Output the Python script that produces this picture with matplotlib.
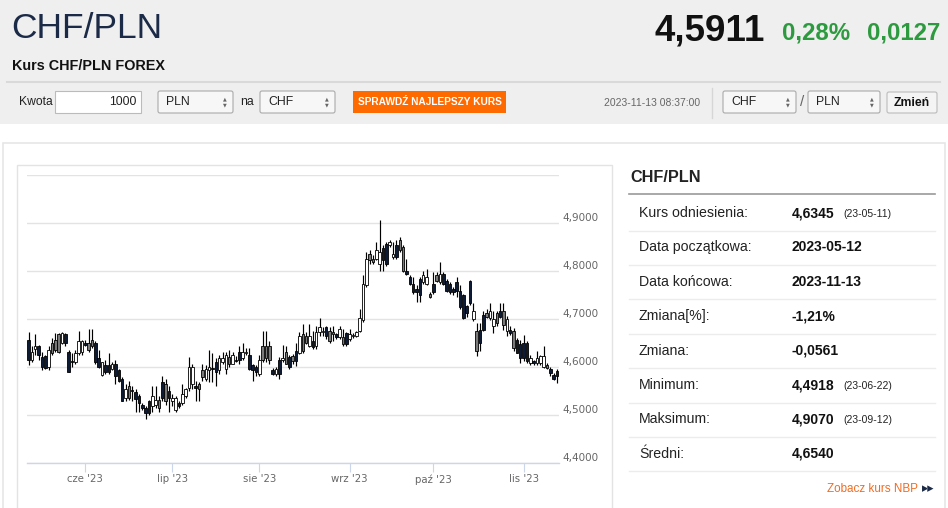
import numpy as np
import pandas as pd
import matplotlib
matplotlib.use("Agg")
import matplotlib.pyplot as plt
from matplotlib.patches import Rectangle, FancyBboxPatch
from matplotlib.transforms import ScaledTranslation

# sessions Sun-Fri, 2023-05-12 .. 2023-11-13
days = pd.date_range("2023-05-12", "2023-11-13")
dates = days[days.dayofweek != 5]

opens = [4.657, 4.614, 4.637, 4.643, 4.621, 4.622, 4.600, 4.629, 4.636, 4.632, 4.651, 4.668, 4.632, 4.612,
         4.611, 4.629, 4.632, 4.651, 4.636, 4.643, 4.650, 4.618, 4.584, 4.604, 4.604, 4.596, 4.607,
         4.593, 4.575, 4.536, 4.536, 4.552, 4.548, 4.539, 4.521, 4.514, 4.504, 4.518, 4.521, 4.532,
         4.536, 4.564, 4.536, 4.529, 4.536, 4.518, 4.525, 4.539, 4.557, 4.600, 4.557, 4.554, 4.579,
         4.575, 4.600, 4.597, 4.589, 4.593, 4.611, 4.596, 4.607, 4.625, 4.615, 4.614, 4.618, 4.632,
         4.625, 4.604, 4.589, 4.586, 4.614, 4.618, 4.643, 4.586, 4.596, 4.586, 4.614, 4.632, 4.600,
         4.623, 4.613, 4.630, 4.634, 4.651, 4.665, 4.641, 4.644, 4.672, 4.676, 4.665, 4.655, 4.672,
         4.662, 4.662, 4.662, 4.648, 4.658, 4.664, 4.665, 4.676, 4.697, 4.770, 4.822, 4.819, 4.826, 4.840,
         4.847, 4.815, 4.854, 4.836, 4.829, 4.843, 4.850, 4.801, 4.787, 4.773, 4.763, 4.749, 4.777,
         4.773, 4.752, 4.756, 4.780, 4.794, 4.794, 4.780, 4.773, 4.763, 4.777, 4.759, 4.749, 4.712,
         4.733, 4.716, 4.674, 4.650, 4.678, 4.705, 4.702, 4.699, 4.692, 4.705, 4.716, 4.674, 4.678,
         4.674, 4.657, 4.647, 4.619, 4.650, 4.608, 4.608, 4.608, 4.608, 4.622, 4.605, 4.595, 4.574, 4.581]
highs = [4.672, 4.643, 4.668, 4.646, 4.632, 4.625, 4.643, 4.661, 4.671, 4.671, 4.672, 4.671, 4.636, 4.629,
         4.636, 4.675, 4.657, 4.656, 4.679, 4.680, 4.654, 4.636, 4.611, 4.614, 4.629, 4.611, 4.614,
         4.596, 4.579, 4.564, 4.571, 4.561, 4.554, 4.543, 4.525, 4.518, 4.532, 4.561, 4.561, 4.539,
         4.582, 4.575, 4.561, 4.543, 4.539, 4.529, 4.564, 4.557, 4.621, 4.607, 4.571, 4.568, 4.607,
         4.604, 4.636, 4.629, 4.618, 4.625, 4.632, 4.632, 4.636, 4.632, 4.622, 4.643, 4.650, 4.640,
         4.639, 4.607, 4.604, 4.625, 4.675, 4.675, 4.654, 4.598, 4.600, 4.621, 4.646, 4.643, 4.625,
         4.627, 4.651, 4.672, 4.690, 4.672, 4.690, 4.676, 4.686, 4.703, 4.683, 4.686, 4.683, 4.686,
         4.670, 4.686, 4.679, 4.672, 4.679, 4.670, 4.676, 4.721, 4.791, 4.840, 4.843, 4.833, 4.861, 4.907,
         4.854, 4.861, 4.864, 4.861, 4.864, 4.871, 4.854, 4.826, 4.791, 4.787, 4.770, 4.787, 4.801,
         4.805, 4.756, 4.798, 4.798, 4.819, 4.798, 4.784, 4.777, 4.766, 4.787, 4.770, 4.752, 4.730,
         4.782, 4.733, 4.692, 4.692, 4.716, 4.720, 4.733, 4.716, 4.716, 4.733, 4.733, 4.706, 4.685,
         4.681, 4.660, 4.657, 4.667, 4.655, 4.625, 4.614, 4.633, 4.625, 4.643, 4.608, 4.601, 4.588, 4.595]
lows = [4.604, 4.611, 4.625, 4.615, 4.593, 4.595, 4.593, 4.625, 4.632, 4.630, 4.648, 4.643, 4.589, 4.600,
        4.607, 4.625, 4.625, 4.644, 4.632, 4.639, 4.607, 4.598, 4.582, 4.586, 4.586, 4.593, 4.564,
        4.568, 4.529, 4.529, 4.532, 4.529, 4.507, 4.507, 4.511, 4.4918, 4.500, 4.507, 4.514, 4.507,
        4.529, 4.521, 4.507, 4.518, 4.507, 4.514, 4.521, 4.536, 4.550, 4.554, 4.529, 4.529, 4.571,
        4.571, 4.568, 4.568, 4.561, 4.585, 4.607, 4.586, 4.600, 4.607, 4.610, 4.607, 4.614, 4.626,
        4.593, 4.571, 4.582, 4.582, 4.611, 4.611, 4.607, 4.584, 4.582, 4.575, 4.611, 4.607, 4.596,
        4.606, 4.602, 4.627, 4.630, 4.648, 4.641, 4.637, 4.637, 4.665, 4.665, 4.658, 4.651, 4.655,
        4.658, 4.658, 4.644, 4.644, 4.655, 4.660, 4.662, 4.672, 4.693, 4.766, 4.815, 4.815, 4.822, 4.800,
        4.801, 4.810, 4.850, 4.826, 4.826, 4.840, 4.798, 4.791, 4.770, 4.752, 4.735, 4.735, 4.773,
        4.770, 4.744, 4.752, 4.777, 4.773, 4.770, 4.756, 4.752, 4.750, 4.745, 4.721, 4.700, 4.705,
        4.730, 4.695, 4.622, 4.633, 4.674, 4.702, 4.698, 4.671, 4.685, 4.702, 4.678, 4.664, 4.667,
        4.633, 4.629, 4.608, 4.612, 4.608, 4.605, 4.605, 4.605, 4.605, 4.598, 4.595, 4.581, 4.572, 4.567]
closes = [4.614, 4.632, 4.643, 4.625, 4.600, 4.598, 4.636, 4.650, 4.657, 4.668, 4.670, 4.650, 4.590, 4.610,
          4.629, 4.654, 4.654, 4.646, 4.650, 4.657, 4.611, 4.600, 4.611, 4.589, 4.589, 4.607, 4.582,
          4.571, 4.529, 4.554, 4.561, 4.549, 4.534, 4.525, 4.514, 4.504, 4.529, 4.539, 4.532, 4.514,
          4.568, 4.529, 4.550, 4.536, 4.511, 4.525, 4.543, 4.554, 4.600, 4.564, 4.561, 4.564, 4.593,
          4.596, 4.593, 4.595, 4.611, 4.618, 4.618, 4.625, 4.621, 4.607, 4.612, 4.632, 4.632, 4.629,
          4.596, 4.593, 4.600, 4.614, 4.643, 4.643, 4.614, 4.593, 4.586, 4.614, 4.618, 4.607, 4.621,
          4.613, 4.634, 4.665, 4.669, 4.665, 4.644, 4.655, 4.672, 4.683, 4.672, 4.683, 4.676, 4.668,
          4.669, 4.679, 4.648, 4.670, 4.669, 4.667, 4.672, 4.703, 4.773, 4.826, 4.836, 4.826, 4.843, 4.815,
          4.822, 4.857, 4.861, 4.829, 4.854, 4.864, 4.801, 4.794, 4.773, 4.756, 4.756, 4.784, 4.791,
          4.787, 4.746, 4.773, 4.791, 4.777, 4.773, 4.759, 4.756, 4.756, 4.759, 4.724, 4.703, 4.728,
          4.780, 4.699, 4.633, 4.678, 4.709, 4.712, 4.716, 4.685, 4.712, 4.716, 4.688, 4.699, 4.671,
          4.640, 4.629, 4.619, 4.650, 4.612, 4.619, 4.612, 4.619, 4.622, 4.601, 4.598, 4.588, 4.584, 4.591]
# w = hollow, d = dark, g = grey
candle_kind = ("dwwdddwgggwdddwwwdggddwddwd"
               "ddwgddddddwwgdgdwwdwwwwdggw"
               "wddwwwgwddwwdddwgggdwdwgdg"
               "dwggwdwwwdggdwgdwwwwwwggwwd"
               "dwwdggdddddwwgdgwdddddddddw"
               "gddgwwgdgwdgddddwdwwwgdddww")

y_ticks = [4.4, 4.5, 4.6, 4.7, 4.8, 4.9, 5.0]
pl_months = {5: "maj", 6: "cze", 7: "lip", 8: "sie", 9: "wrz", 10: "paź", 11: "lis"}

rows = [("Kurs odniesienia:", "4,6345", "(23-05-11)"),
        ("Data początkowa:", "2023-05-12", ""),
        ("Data końcowa:", "2023-11-13", ""),
        ("Zmiana[%]:", "-1,21%", ""),
        ("Zmiana:", "-0,0561", ""),
        ("Minimum:", "4,4918", "(23-06-22)"),
        ("Maksimum:", "4,9070", "(23-09-12)"),
        ("Średni:", "4,6540", "")]

NARROW = ["Liberation Sans Narrow", "Liberation Sans", "DejaVu Sans"]
ARIAL = ["Liberation Sans", "DejaVu Sans"]
NAVY = "#1b2a47"
GREEN = "#2e9a40"
ORANGE = "#ff6a00"

W, H = 948, 508
fig = plt.figure(figsize=(W / 100, H / 100), dpi=100)
fig.patch.set_facecolor("white")
bg = fig.add_axes([0, 0, 1, 1])
bg.set_xlim(0, W)
bg.set_ylim(H, 0)
bg.axis("off")


def box(x, y, w, h, fc, ec, lw=0.8, r=0):
    if r:
        p = FancyBboxPatch((x, y), w, h, boxstyle="round,pad=0,rounding_size=%s" % r,
                           fc=fc, ec=ec, lw=lw)
    else:
        p = Rectangle((x, y), w, h, fc=fc, ec=ec, lw=lw)
    bg.add_patch(p)


def select(x, w, label):
    box(x, 91, w, 22, "#f7f7f7", "#aaaaaa", r=2)
    bg.text(x + 8, 102, label, family=NARROW, fontsize=8.8, color="#222222", va="center")
    bg.text(x + w - 8, 99, "▲", fontsize=3.5, color="#666666", ha="center", va="center")
    bg.text(x + w - 8, 105, "▼", fontsize=3.5, color="#666666", ha="center", va="center")


# header
box(0, 0, W, 124, "#efefef", "none", lw=0)
bg.text(11, 29, "CHF/PLN", family=NARROW, fontsize=25.5, color=NAVY, va="center")
bg.text(12, 66, "Kurs CHF/PLN FOREX", family=NARROW, fontsize=10.4, weight="bold",
        color="#111111", va="center")
bg.text(765, 31, "4,5911", family=NARROW, fontsize=26.5, weight="bold", color="#111111",
        ha="right", va="center")
bg.text(782, 33, "0,28%", family=NARROW, fontsize=17.3, weight="bold", color=GREEN, va="center")
bg.text(940, 33, "0,0127", family=NARROW, fontsize=17.3, weight="bold", color=GREEN,
        ha="right", va="center")
bg.plot([7, 940], [82, 82], color="#d9d9d9", lw=1.5)

bg.text(19, 102, "Kwota", family=NARROW, fontsize=8.7, color="#222222", va="center")
box(55, 91, 86, 22, "white", "#bbbbbb")
bg.text(137, 102, "1000", family=NARROW, fontsize=8.8, color="#222222", ha="right", va="center")
select(158, 75, "PLN")
bg.text(240, 102, "na", family=NARROW, fontsize=8.8, color="#222222", va="center")
select(260, 75, "CHF")
box(353, 91, 153, 22, ORANGE, "none", lw=0)
bg.text(429.5, 102, "SPRAWDŹ NAJLEPSZY KURS", family=NARROW, fontsize=7.3, weight="bold",
        color="white", ha="center", va="center")
bg.text(652, 103, "2023-11-13 08:37:00", family=NARROW, fontsize=7.5, color="#666666",
        ha="center", va="center")
bg.plot([712, 712], [88, 118], color="#d6d6d6", lw=1)
select(723, 73, "CHF")
bg.text(802, 102, "/", family=NARROW, fontsize=11, color="#666666", ha="center", va="center")
select(808, 72, "PLN")
box(887, 92, 50, 21, "#f4f4f4", "#bbbbbb", r=2)
bg.text(912, 103, "Zmień", family=NARROW, fontsize=8.8, weight="bold", color="#111111",
        ha="center", va="center")

# content frames
box(3, 143, 942, 372, "white", "#e6e6e6", lw=1.2)
box(17, 165, 595, 350, "white", "#e3e3e3", lw=1)

# right panel
bg.text(630, 178, "CHF/PLN", family=ARIAL, fontsize=11.7, weight="bold", color="#222222",
        va="center")
bg.plot([629, 935], [193.5, 193.5], color="#999999", lw=1.2)
for k, (lab, val, extra) in enumerate(rows):
    yc = 213 + 34.4 * k
    bg.text(639, yc, lab, family=ARIAL, fontsize=10.2, color="#222222", va="center")
    bg.text(792, yc, val, family=ARIAL, fontsize=10, weight="bold", color="#111111", va="center")
    if extra:
        bg.text(843, yc + 1, extra, family=ARIAL, fontsize=7.5, color="#222222", va="center")
    bg.plot([629, 935], [yc + 17.5, yc + 17.5], color="#ececec", lw=1)
bg.text(918, 489, "Zobacz kurs NBP", family=ARIAL, fontsize=8.4, color="#f26b21",
        ha="right", va="center")
bg.text(934, 489, "▸▸", family=["DejaVu Sans"], fontsize=9, color=NAVY, ha="right", va="center")

# candlestick chart
ax = fig.add_axes([27 / W, (H - 463) / H, 532 / W, 288 / H])
ax.patch.set_alpha(0)
idx = np.arange(len(dates))
o = np.array(opens)
c = np.array(closes)
lo = np.minimum(o, c)
ht = np.maximum(np.abs(c - o), 0.0015)
fill = {"w": "white", "d": "#0d1b36", "g": "#7a7a7a"}
ax.vlines(idx, lows, highs, color="black", lw=0.85, zorder=2)
ax.bar(idx, ht, bottom=lo, width=0.76, color=[fill[k] for k in candle_kind],
       edgecolor="black", linewidth=0.6, zorder=3)

ax.set_xlim(-0.45, 158.6)
ax.set_ylim(4.4, 5.0)
ax.set_yticks(y_ticks)
ax.set_yticklabels([("%.4f" % v).replace(".", ",") if v < 4.95 else "" for v in y_ticks])
ax.yaxis.tick_right()
ax.tick_params(axis="y", length=0, pad=2.2, labelsize=7.5, labelcolor="#666666")
off = ScaledTranslation(0, 0.06, fig.dpi_scale_trans)
for lbl in ax.get_yticklabels():
    lbl.set_transform(lbl.get_transform() + off)
ax.grid(axis="y", color="#e3e3e3", lw=1)
ax.set_axisbelow(True)

month_first = [i for i in range(1, len(dates)) if dates[i].month != dates[i - 1].month]
ax.set_xticks(month_first)
ax.set_xticklabels(["%s '%s" % (pl_months[dates[i].month], str(dates[i].year)[2:])
                    for i in month_first])
ax.tick_params(axis="x", length=6.5, width=0.8, color="#ccd6eb", pad=1.5, labelsize=7.3,
               labelcolor="#666666")
for s in ["top", "left", "right"]:
    ax.spines[s].set_visible(False)
ax.spines["bottom"].set_color("#ccd6eb")
ax.spines["bottom"].set_linewidth(1)

fig.savefig("out.png", dpi=100)
